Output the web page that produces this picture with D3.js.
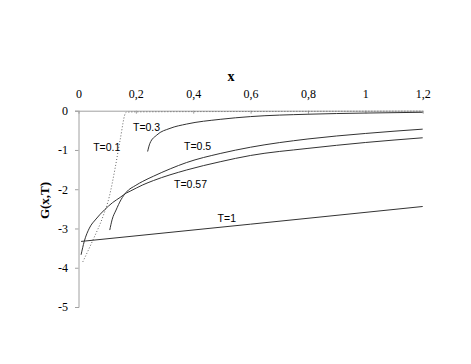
<!DOCTYPE html>
<html>
<head>
<meta charset="utf-8">
<script src="https://cdn.jsdelivr.net/npm/d3@7"></script>
<style>
html,body{margin:0;padding:0;background:#fff;}
svg{display:block;}
</style>
</head>
<body>
<svg id="chart" width="471" height="364"></svg>
<script>
// ---- data ----
const xTicks = [0, 0.2, 0.4, 0.6, 0.8, 1, 1.2];
const xTickLabels = ["0", "0,2", "0,4", "0,6", "0,8", "1", "1,2"];
const yTicks = [0, -1, -2, -3, -4, -5];
const yTickLabels = ["0", "-1", "-2", "-3", "-4", "-5"];

const seriesNames = ["T=0.1", "T=0.3", "T=0.5", "T=0.57", "T=1"];

const xT01 = [0.015, 0.05, 0.085, 0.107, 0.128, 0.145, 0.166, 0.2, 0.6, 1.2];
const yT01 = [-3.85, -3.30, -2.70, -2.20, -1.45, -0.75, -0.04, -0.03, -0.02, -0.01];

const xT03 = [0.241, 0.249, 0.273, 0.319, 0.377, 0.494, 0.6, 0.8, 1.0, 1.2];
const yT03 = [-1.04, -0.83, -0.62, -0.45, -0.34, -0.22, -0.15, -0.09, -0.06, -0.04];

const xT05 = [0.109, 0.117, 0.131, 0.148, 0.166, 0.2, 0.224, 0.261, 0.32, 0.377, 0.494, 0.6, 0.8, 1.0, 1.2];
const yT05 = [-3.04, -2.78, -2.53, -2.27, -2.08, -1.90, -1.80, -1.67, -1.48, -1.32, -1.09, -0.93, -0.72, -0.58, -0.47];

const xT057 = [0.009, 0.020, 0.038, 0.061, 0.090, 0.119, 0.145, 0.166, 0.18, 0.224, 0.261, 0.377, 0.494, 0.6, 0.8, 1.0, 1.2];
const yT057 = [-3.67, -3.33, -2.99, -2.76, -2.53, -2.34, -2.21, -2.10, -2.05, -1.89, -1.78, -1.51, -1.30, -1.14, -0.96, -0.81, -0.69];

const xT1 = [0.009, 0.6, 1.2];
const yT1 = [-3.33, -2.89, -2.44];

// ---- layout ----
const svg = d3.select("#chart");
const mLeft = 78.5, mRight = 422.7, mTop = 110.7, mBottom = 307;
const x = d3.scaleLinear().domain([0, 1.2]).range([mLeft, mRight]);
const y = d3.scaleLinear().domain([-5, 0]).range([mBottom, mTop]);

const axisColor = "#a0a0a0";
const serif = "'Liberation Serif','Times New Roman',serif";
const sans = "'Liberation Sans',Arial,sans-serif";

// y axis (left)
const yAxis = svg.append("g").attr("transform", `translate(${mLeft},0)`)
  .call(d3.axisLeft(y).tickValues(yTicks).tickSize(3.5).tickPadding(7)
    .tickFormat((d, i) => yTickLabels[i]));
yAxis.attr("font-family", serif);
yAxis.select(".domain").attr("stroke", axisColor);
yAxis.selectAll(".tick line").attr("stroke", axisColor);
yAxis.selectAll("text").attr("font-family", serif).attr("font-size", 12).attr("fill", "#000");

// x axis (top, at y=0) ticks pointing down, labels above
const xAxis = svg.append("g").attr("transform", `translate(0,${y(0)})`)
  .call(d3.axisBottom(x).tickValues(xTicks).tickSize(3).tickSizeOuter(0)
    .tickFormat((d, i) => xTickLabels[i]));
xAxis.attr("font-family", serif);
xAxis.select(".domain").attr("stroke", axisColor);
xAxis.selectAll(".tick line").attr("stroke", axisColor);
xAxis.selectAll("text").attr("font-family", serif).attr("font-size", 12).attr("fill", "#000")
  .attr("y", -17).attr("dy", "0.32em");

// titles
svg.append("text").attr("x", 231).attr("y", 81).attr("text-anchor", "middle")
  .attr("font-family", serif).attr("font-weight", "bold").attr("font-size", 14).text("x");
svg.append("text").attr("transform", "translate(49,200.5) rotate(-90)").attr("text-anchor", "middle")
  .attr("font-family", serif).attr("font-weight", "bold").attr("font-size", 13).text("G(x,T)");

// curves
const line = d3.line().x(d => x(d[0])).y(d => y(d[1])).curve(d3.curveMonotoneX);
const series = [
  {xs: xT01, ys: yT01, dotted: true},
  {xs: xT03, ys: yT03},
  {xs: xT05, ys: yT05},
  {xs: xT057, ys: yT057},
  {xs: xT1, ys: yT1}
];
series.forEach(s => {
  const pts = s.xs.map((v, i) => [v, s.ys[i]]);
  svg.append("path").datum(pts).attr("d", line)
    .attr("fill", "none")
    .attr("stroke", s.dotted ? "#666" : "#333")
    .attr("stroke-width", 1)
    .attr("stroke-dasharray", s.dotted ? "1,2" : null);
});

// curve labels
const labelPos = [[0.051, -0.94], [0.190, -0.43], [0.368, -0.92], [0.333, -1.87], [0.485, -2.74]];
seriesNames.forEach((n, i) => {
  svg.append("text").attr("x", x(labelPos[i][0])).attr("y", y(labelPos[i][1]))
    .attr("dy", "0.35em").attr("font-family", sans).attr("font-size", 10.5).attr("fill", "#000").text(n);
});
</script>
</body>
</html>
